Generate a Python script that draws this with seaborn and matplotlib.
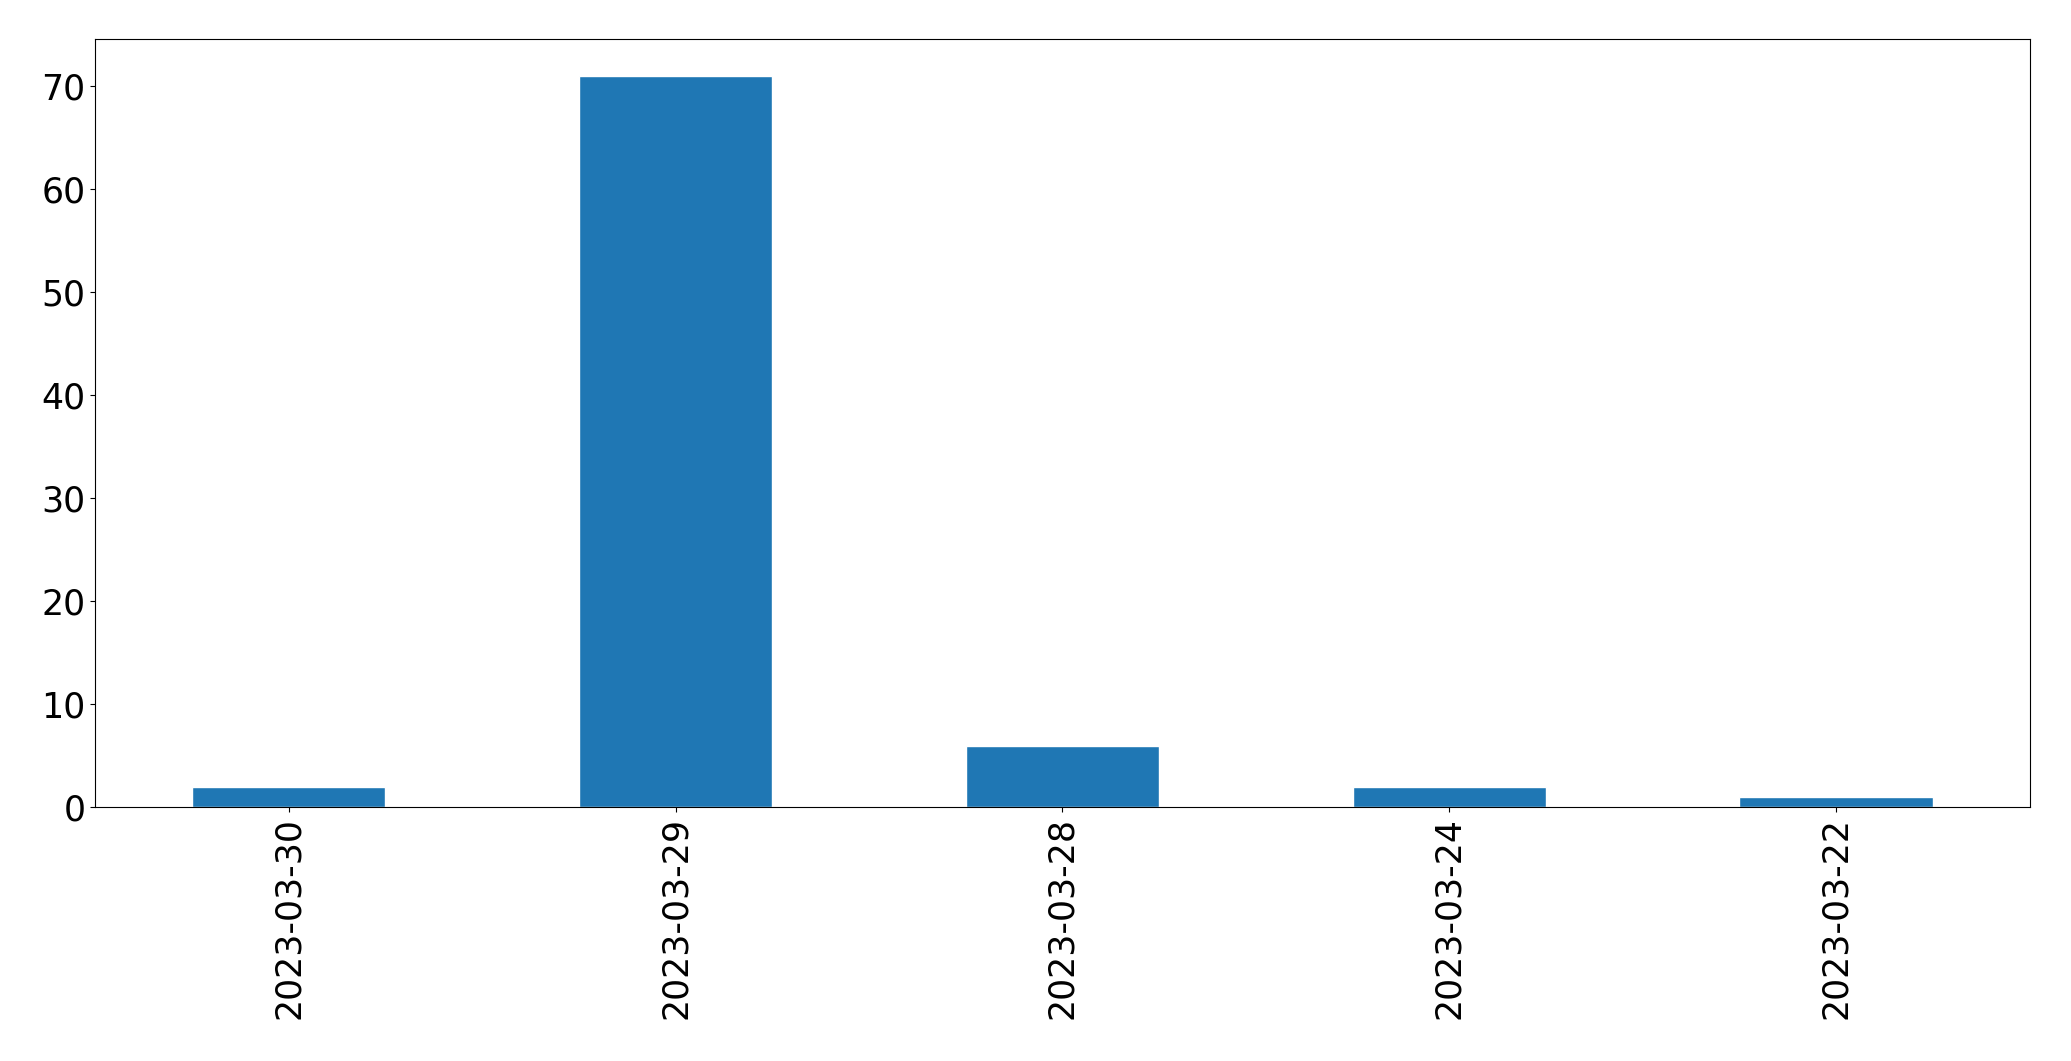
import numpy as np
import pandas as pd
import matplotlib
matplotlib.use("Agg")
import matplotlib.pyplot as plt
import seaborn as sns

# data
dates = ["2023-03-30", "2023-03-29", "2023-03-28", "2023-03-24", "2023-03-22"]
counts = [2, 71, 6, 2, 1]

df = pd.DataFrame({"date": dates, "count": counts})

sns.set_style("ticks")
plt.rcParams['font.family'] = ['DejaVu Sans']

fig = plt.figure(figsize=(20.71, 10.61), dpi=100)
ax = fig.add_axes([0.046, 0.239, 0.934, 0.724])

sns.barplot(data=df, x="date", y="count", color="#1f77b4", saturation=1,
            width=0.5, ax=ax)

ax.set_xlabel("")
ax.set_ylabel("")
ax.tick_params(axis="both", labelsize=25, colors="black")
ax.tick_params(axis="x", labelrotation=90)
for s in ax.spines.values():
    s.set_visible(True)
    s.set_color("black")
    s.set_linewidth(0.8)

fig.savefig("out.png", dpi=100)
